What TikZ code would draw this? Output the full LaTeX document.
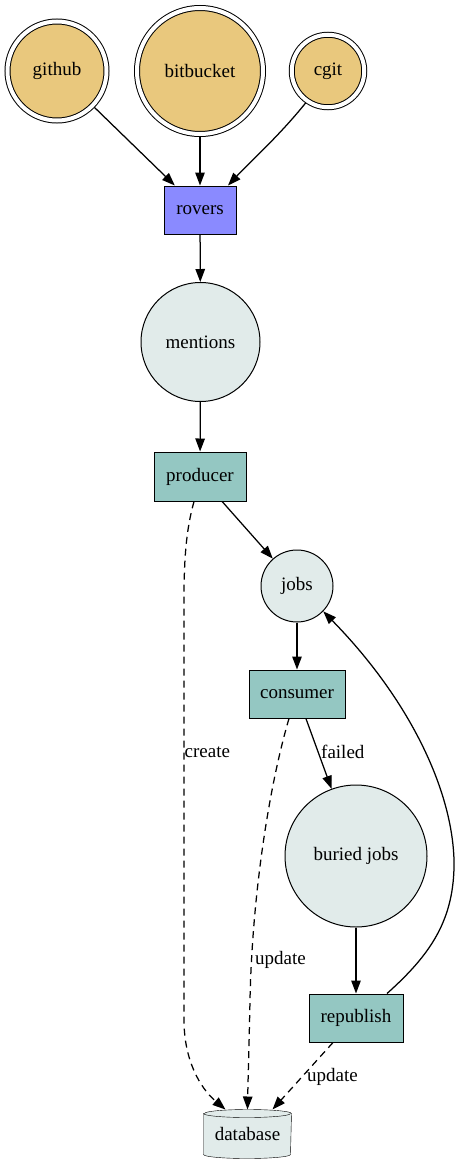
\documentclass[tikz,border=0pt]{standalone}
\usepackage{fontspec}
\setmainfont{Liberation Serif}
\usetikzlibrary{arrows.meta,backgrounds}
\definecolor{gold}{RGB}{233,200,125}
\definecolor{roverblue}{RGB}{138,138,255}
\definecolor{procteal}{RGB}{148,199,194}
\definecolor{qlight}{RGB}{225,235,234}
\begin{document}
\begin{tikzpicture}[x=1pt,y=-1pt, line width=1pt,
  every node/.style={font=\fontsize{19}{22}\selectfont},
  src/.style={circle, draw, fill=gold, double=white, double distance=4pt, inner sep=0pt, outer sep=2.5pt},
  proc/.style={rectangle, draw, fill=procteal, inner sep=0pt},
  queue/.style={circle, draw, fill=qlight, inner sep=0pt},
  arr/.style={line width=1.25pt, -{Triangle[length=13pt,width=9.5pt]}},
  dsh/.style={arr, dash pattern=on 7pt off 5pt},
  lbl/.style={anchor=west, inner sep=0pt}
]
\path[use as bounding box] (0,0) rectangle (460,1164);

\node[src, minimum size=99pt] (github) at (57,71) {github};
\node[src, minimum size=126pt] (bitbucket) at (200,71) {bitbucket};
\node[src, minimum size=72.5pt] (cgit) at (328,71) {cgit};
\node[proc, fill=roverblue, minimum width=72pt, minimum height=48pt] (rovers) at (200,210) {rovers};
\node[queue, minimum size=119pt] (mentions) at (200.5,342) {mentions};
\node[proc, minimum width=92pt, minimum height=49pt] (producer) at (200,476.5) {producer};
\node[queue, minimum size=72pt] (jobs) at (297,586) {jobs};
\node[proc, minimum width=96pt, minimum height=48pt] (consumer) at (297,694) {consumer};
\node[queue, minimum size=142pt] (buried) at (356,856) {buried jobs};
\node[proc, minimum width=94pt, minimum height=48pt] (republish) at (356,1018) {republish};
\node[inner sep=0pt, minimum width=87pt, minimum height=48pt] (db) at (247.5,1134) {database};
\begin{pgfonlayer}{background}
\draw[fill=qlight] ([yshift=-4pt]db.north west) -- ([yshift=4pt]db.south west)
  arc[start angle=180, end angle=360, x radius=43.5pt, y radius=4pt]
  -- ([yshift=-4pt]db.north east)
  arc[start angle=0, end angle=180, x radius=43.5pt, y radius=4pt] -- cycle;
\draw ([yshift=-4pt]db.north west) arc[start angle=180, end angle=360, x radius=43.5pt, y radius=4pt];
\end{pgfonlayer}

\node[lbl] (lcreate) at (184.5,752) {create};
\node[lbl] (lupdA) at (255,960) {update};
\node[lbl] (lfailed) at (321,752) {failed};
\node[lbl] (lupdB) at (307,1077) {update};

\draw[arr] (github) -- (rovers);
\draw[arr] (bitbucket) -- (rovers);
\draw[arr] (cgit.-125) .. controls (280,135) and (250,162) .. ([xshift=28pt]rovers.north);
\draw[arr] (rovers) -- (mentions);
\draw[arr] (mentions) -- (producer);
\draw[arr] (producer) -- (jobs);
\draw[arr] (jobs) -- (consumer);
\draw[arr] (consumer) -- (buried);
\draw[arr] (buried) -- (republish);
\draw[arr] ([xshift=31pt]republish.north) .. controls (430,955) and (455,920) .. (454,860)
  .. controls (452,790) and (410,700) .. (jobs.-44);
\draw[dsh] ([xshift=-6pt]producer.south) .. controls (186,530) and (184,560) .. (184,600)
  -- (184,1020) .. controls (184,1060) and (200,1088) .. ([xshift=-22pt]db.north);
\draw[dsh] ([xshift=-8pt]consumer.south) .. controls (268,790) and (252,900) .. (250,1000)
  .. controls (249,1050) and (248,1080) .. (db.north);
\draw[dsh] ([xshift=-23pt]republish.south) -- ([xshift=25pt]db.north);
\end{tikzpicture}
\end{document}
